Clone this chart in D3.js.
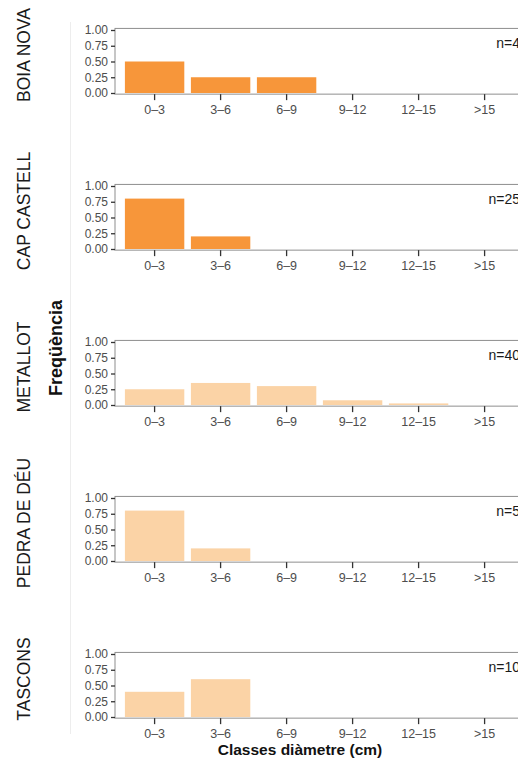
<!DOCTYPE html>
<html>
<head>
<meta charset="utf-8">
<script src="https://cdn.jsdelivr.net/npm/d3@7"></script>
<style>
  body { margin: 0; background: #fff; }
  svg { display: block; font-family: "Liberation Sans", Arial, sans-serif; }
</style>
</head>
<body>
<div id="chart"></div>
<script>
// data
var sites = ["BOIA NOVA", "CAP CASTELL", "METALLOT", "PEDRA DE DÉU", "TASCONS"];
var classes = ["0–3", "3–6", "6–9", "9–12", "12–15", ">15"];
var freqBoiaNova = [0.5, 0.25, 0.25, 0, 0, 0];
var freqCapCastell = [0.8, 0.2, 0, 0, 0, 0];
var freqMetallot = [0.25, 0.35, 0.3, 0.075, 0.025, 0];
var freqPedraDeDeu = [0.8, 0.2, 0, 0, 0, 0];
var freqTascons = [0.4, 0.6, 0, 0, 0, 0];
var nCounts = [4, 25, 40, 5, 10];
var yTicks = [0, 0.25, 0.5, 0.75, 1];

var freqs = [freqBoiaNova, freqCapCastell, freqMetallot, freqPedraDeDeu, freqTascons];
var barColours = ["#f7963a", "#f7963a", "#fbd3a6", "#fbd3a6", "#fbd3a6"];

var W = 518, H = 762;
var left = 115, right = 524.2;
var firstTop = 30, panelStep = 156, panelH = 63;

var svg = d3.select("#chart").append("svg").attr("width", W).attr("height", H);

var x = d3.scaleBand().domain(classes).range([left, right])
    .paddingInner(0.1).paddingOuter(0.15);

// faint strip divider
svg.append("line")
    .attr("x1", 70.5).attr("x2", 70.5).attr("y1", 22).attr("y2", 734)
    .attr("stroke", "#ededed").attr("stroke-width", 1);

sites.forEach(function (site, i) {
    var top = firstTop + i * panelStep;
    var y = d3.scaleLinear().domain([0, 1]).range([top + panelH, top]);
    var g = svg.append("g").attr("class", "panel");

    var yMin = y(-0.018), yMax = y(1.025);

    g.append("g").selectAll("rect")
        .data(freqs[i])
        .enter().append("rect")
        .attr("x", function (d, j) { return x(classes[j]); })
        .attr("y", function (d) { return y(d); })
        .attr("width", x.bandwidth())
        .attr("height", function (d) { return y(0) - y(d); })
        .attr("fill", barColours[i]);

    g.append("rect")
        .attr("x", left).attr("y", yMax)
        .attr("width", right - left).attr("height", yMin - yMax)
        .attr("fill", "none").attr("stroke", "#8e8e8e").attr("stroke-width", 1);

    var ya = g.append("g")
        .attr("transform", "translate(" + left + ",0)")
        .call(d3.axisLeft(y).tickValues(yTicks).tickFormat(d3.format(".2f"))
            .tickSize(4).tickPadding(3));
    ya.select(".domain").remove();
    ya.selectAll("line").attr("stroke", "#333").attr("stroke-width", 1.3);
    ya.selectAll("text").attr("fill", "#4d4d4d").style("font-size", "12px");

    var xa = g.append("g")
        .attr("transform", "translate(0," + yMin + ")")
        .call(d3.axisBottom(x).tickSize(6).tickPadding(5));
    xa.select(".domain").remove();
    xa.selectAll("line").attr("stroke", "#333").attr("stroke-width", 1.3);
    xa.selectAll("text").attr("fill", "#4d4d4d").style("font-size", "12.5px");

    g.append("text")
        .attr("x", 520).attr("y", top + 18)
        .attr("text-anchor", "end")
        .style("font-size", "14px").attr("fill", "#1a1a1a")
        .text("n=" + nCounts[i]);

    g.append("text")
        .attr("transform", "translate(30," + (top + 25) + ") rotate(-90)")
        .attr("text-anchor", "middle")
        .style("font-size", "17.5px").attr("fill", "#1a1a1a")
        .text(site);
});

svg.append("text")
    .attr("transform", "translate(62,348) rotate(-90)")
    .attr("text-anchor", "middle")
    .style("font-size", "18px").style("font-weight", "bold").attr("fill", "#111")
    .text("Freqüència");

svg.append("text")
    .attr("x", 300).attr("y", 755)
    .attr("text-anchor", "middle")
    .style("font-size", "15.5px").style("font-weight", "bold").attr("fill", "#111")
    .text("Classes diàmetre (cm)");
</script>
</body>
</html>
